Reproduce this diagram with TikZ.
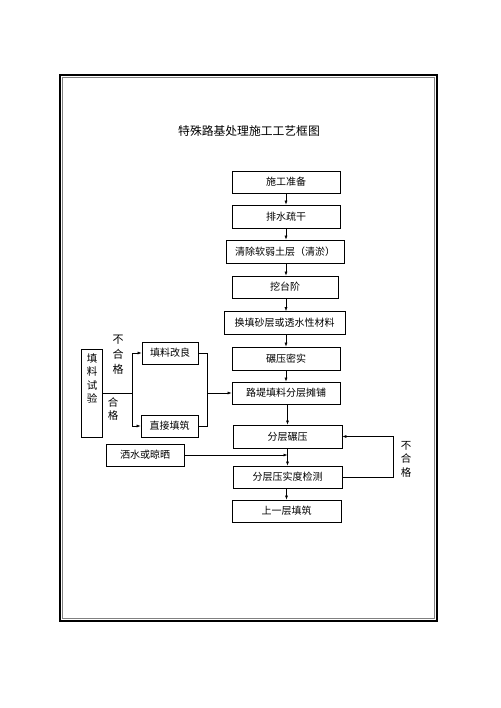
\documentclass[tikz,border=0pt]{standalone}
\usepackage{fontspec}
\setmainfont{Noto Sans CJK SC}
\usetikzlibrary{arrows.meta}
\begin{document}
\begin{tikzpicture}[x=1pt,y=-1pt,
  box/.style={draw, line width=0.7pt, inner sep=0pt, font=\fontsize{10}{12}\selectfont},
  lbl/.style={inner sep=0pt, align=center, font=\fontsize{10.5}{13.5}\selectfont},
  arr/.style={-{Latex[length=4pt,width=3pt]}, line width=0.6pt},
  ln/.style={line width=0.6pt}]
\useasboundingbox (0,0) rectangle (500,708);
% frame
\draw[line width=1.8pt] (60,75) rectangle (437,621);
\draw[gray, line width=0.8pt] (62.5,77.5) rectangle (434.5,618.5);
% title
\node[inner sep=0pt, font=\fontsize{11.8}{14}\selectfont] (title) at (249,131) {特殊路基处理施工工艺框图};
% main column
\node[box, minimum width=108, minimum height=22] (s1) at (286,182) {施工准备};
\node[box, minimum width=108, minimum height=23] (s2) at (286,216.5) {排水疏干};
\node[box, minimum width=118, minimum height=23] (s3) at (285,251.5) {清除软弱土层（清淤）};
\node[box, minimum width=106, minimum height=22] (s4) at (285,287) {挖台阶};
\node[box, minimum width=121, minimum height=23] (s5) at (284.5,323) {换填砂层或透水性材料};
\node[box, minimum width=108, minimum height=23] (s6) at (286,358.5) {碾压密实};
\node[box, minimum width=108, minimum height=22] (s7) at (286,393) {路堤填料分层摊铺};
\node[box, minimum width=109, minimum height=23] (s8) at (287.5,436.5) {分层碾压};
\node[box, minimum width=109, minimum height=22] (s9) at (287.5,477) {分层压实度检测};
\node[box, minimum width=109, minimum height=22] (s10) at (286.5,511) {上一层填筑};
% left side
\node[box, minimum width=21, minimum height=88] (a) at (91.5,393) {};
\node[lbl] (atxt) at (92,378.5) {填\\料\\试\\验};
\node[box, minimum width=56, minimum height=22] (b) at (170,353) {填料改良};
\node[box, minimum width=57, minimum height=22] (c) at (169.5,426) {直接填筑};
\node[box, minimum width=78, minimum height=22] (d) at (145,455) {洒水或晾晒};
\node[lbl, font=\fontsize{11}{15}\selectfont] (l1) at (118,355) {不\\合\\格};
\node[lbl] (l2) at (113,409) {合\\格};
\node[lbl] (l3) at (406,459) {不\\合\\格};
% connectors main
\draw[arr] (s1.south) -- (s2.north);
\draw[arr] (s2.south) -- (s3.north -| s2.south);
\draw[arr] (s3.south -| s2.south) -- (s4.north -| s2.south);
\draw[arr] (s4.south -| s2.south) -- (s5.north -| s2.south);
\draw[arr] (s5.south -| s2.south) -- (s6.north);
\draw[arr] (s6.south) -- (s7.north);
\draw[arr] (s7.south -| s8.north) -- (s8.north);
\draw[arr] (s8.south) -- (s9.north);
\draw[arr] (s9.south -| s10.north) -- (s10.north);
\draw[arr] (d.east) -- (d.east -| s8.south);
\draw[arr] (s9.east) -- ++(51,0) |- (s8.east);
% connectors left
\coordinate (sp) at (132,393);
\coordinate (mg) at (207,393);
\draw[ln] (a.east) -- (sp);
\draw[arr] (sp) |- (b.west);
\draw[arr] (sp) |- (c.west);
\draw[ln] (b.east) -| (mg);
\draw[ln] (c.east) -| (mg);
\draw[arr] (mg) -- (s7.west);
\end{tikzpicture}
\end{document}
